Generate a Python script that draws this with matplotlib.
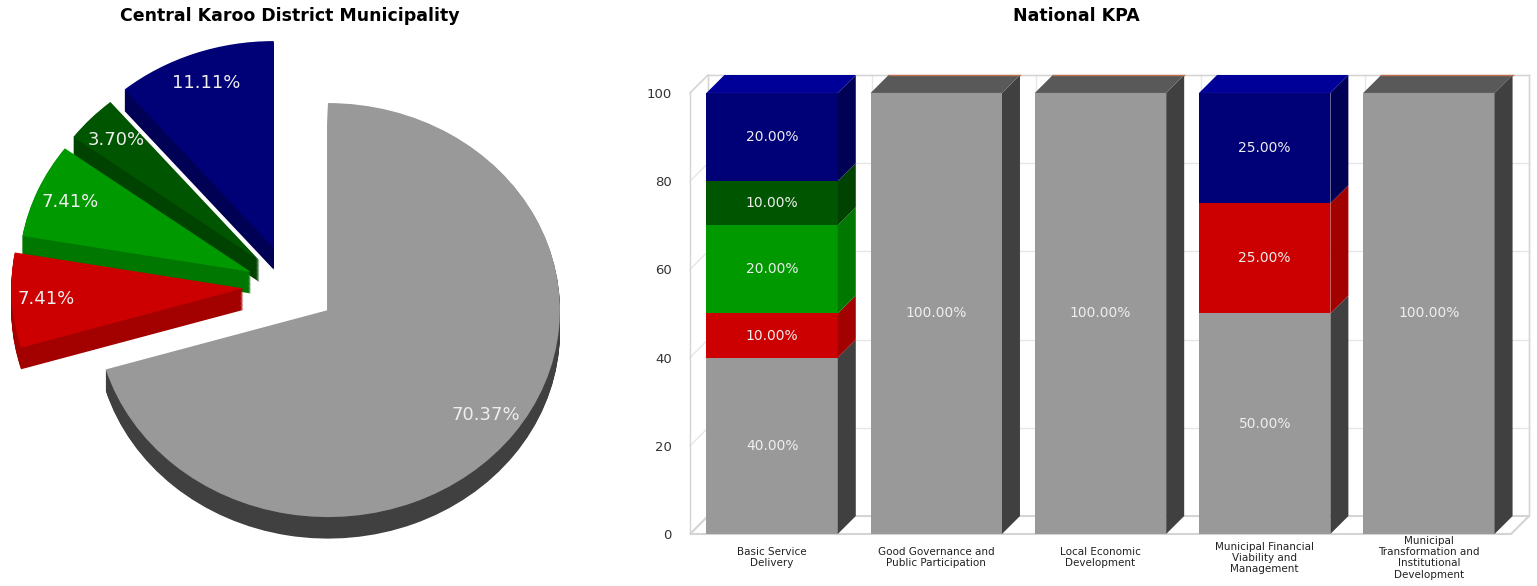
import numpy as np
import matplotlib
matplotlib.use('Agg')
import matplotlib.pyplot as plt

# Datos del gráfico circular (conteos -> porcentajes)
pie_labels = ['Grey', 'Red', 'Green', 'Dark green', 'Blue']
pie_counts = [19, 2, 2, 1, 3]

# Datos del gráfico de barras (porcentaje por KPA)
kpa_names = ['Basic Service\nDelivery',
             'Good Governance and\nPublic Participation',
             'Local Economic\nDevelopment',
             'Municipal Financial\nViability and\nManagement',
             'Municipal\nTransformation and\nInstitutional\nDevelopment']
grey_pct = [40, 100, 100, 50, 100]
red_pct = [10, 0, 0, 25, 0]
green_pct = [20, 0, 0, 0, 0]
dkgreen_pct = [10, 0, 0, 0, 0]
blue_pct = [20, 0, 0, 25, 0]

# Colores (cara frontal, lateral, superior)
front = ['#999999', '#cc0000', '#009900', '#005500', '#000077']
side = ['#404040', '#a30000', '#007700', '#004200', '#000055']
top = ['#595959', '#dd2222', '#00aa00', '#006600', '#000099']

# estilo de separación de las porciones (distancia y ángulo en grados)
explode = [0, 0.38, 0.38, 0.38, 0.38]
explode_ang = [0, 164, 151, 141, 128]

fig = plt.figure(figsize=(15.37, 5.86), dpi=100)

# ---------------- Pie 3D ----------------
ax1 = fig.add_axes([0, 0, 620 / 1537, 556 / 586])


def dibujar_pie(cy, colores, etiquetas=False):
    kw = dict(colors=colores, startangle=90, counterclock=False,
              center=(0, cy), wedgeprops={'linewidth': 0})
    if etiquetas:
        kw.update(autopct='%.2f%%', pctdistance=0.85,
                  textprops={'color': '#eeeeee', 'fontsize': 13})
    res = ax1.pie(pie_counts, **kw)
    for i, w in enumerate(res[0]):
        ox = explode[i] * np.cos(np.radians(explode_ang[i]))
        oy = explode[i] * np.sin(np.radians(explode_ang[i]))
        w.set_center((ox, cy + oy))
        if etiquetas:
            px, py = res[2][i].get_position()
            res[2][i].set_position((px + ox, py + oy))
    return res


n_layers = 26
step = 0.004
for k in range(n_layers, 0, -1):
    dibujar_pie(-k * step, side)
dibujar_pie(0, front, etiquetas=True)
ax1.set_aspect('auto')
ax1.set_xlim(-1.414, 1.259)
ax1.set_ylim(-1.333, 1.353)
ax1.axis('off')

fig.text(290 / 1537, 1 - 16 / 586, 'Central Karoo District Municipality',
         ha='center', va='center', fontsize=12.5, fontweight='bold')

# ---------------- Barras 3D ----------------
dx = 18 / 164.2
dy = 18 / 4.42
bw = 0.8
ax2 = fig.add_axes([690 / 1537, 52 / 586, 839 / 1537, 459 / 586])
ax2.set_xlim(-0.5, 4.5 + dx)
ax2.set_ylim(0, 100 + dy)
n = len(kpa_names)
wall = '#d4d4d4'
grid = '#e6e6e6'

# pared trasera, pared izquierda y piso
ax2.fill([-0.5, 4.5, 4.5 + dx, -0.5 + dx], [0, 0, dy, dy],
         facecolor='white', edgecolor=wall, lw=1.5, zorder=1, clip_on=False)
for v in [20, 40, 60, 80, 100]:
    ax2.plot([-0.5 + dx, 4.5 + dx], [v + dy, v + dy], color=grid, lw=1,
             zorder=0.5, clip_on=False)
    ax2.plot([-0.5, -0.5 + dx], [v, v + dy], color=grid, lw=1, zorder=0.5,
             clip_on=False)
for k in range(n + 1):
    ax2.plot([-0.5 + dx + k, -0.5 + dx + k], [dy, 100 + dy], color=grid,
             lw=1, zorder=0.5, clip_on=False)
ax2.plot([-0.5 + dx, 4.5 + dx], [100 + dy, 100 + dy], color=wall, lw=1,
         zorder=0.6, clip_on=False)
ax2.plot([-0.5, -0.5], [0, 100], color=wall, lw=1, zorder=0.6, clip_on=False)
ax2.plot([-0.5, -0.5 + dx], [100, 100 + dy], color=wall, lw=1, zorder=0.6,
         clip_on=False)
ax2.plot([-0.5 + dx, -0.5 + dx], [dy, 100 + dy], color=wall, lw=1,
         zorder=0.6, clip_on=False)
ax2.plot([4.5 + dx, 4.5 + dx], [dy, 100 + dy], color=wall, lw=1,
         zorder=0.6, clip_on=False)

series = [grey_pct, red_pct, green_pct, dkgreen_pct, blue_pct]
x = np.arange(n)
bottoms = np.zeros(n)
for s, vals in enumerate(series):
    vals = np.array(vals, dtype=float)
    ax2.bar(x, vals, bottom=bottoms, width=bw, color=front[s], linewidth=0,
            zorder=3)
    for i in range(n):
        if vals[i] <= 0:
            continue
        b = bottoms[i]
        t = b + vals[i]
        xr = x[i] + bw / 2
        ax2.fill([xr, xr + dx, xr + dx, xr], [b, b + dy, t + dy, t],
                 color=side[s], linewidth=0, zorder=3)
        ax2.text(x[i], b + vals[i] / 2, f'{vals[i]:.2f}%', ha='center',
                 va='center', color='#eeeeee', fontsize=10, zorder=5)
    bottoms = bottoms + vals

# caras superiores
for i in range(n):
    s_top = max(s for s in range(len(series)) if series[s][i] > 0)
    t = bottoms[i]
    xl, xr = x[i] - bw / 2, x[i] + bw / 2
    ax2.fill([xl, xl + dx, xr + dx, xr], [t, t + dy, t + dy, t],
             color=top[s_top], linewidth=0, zorder=3, clip_on=False)
    if s_top == 0:
        ax2.plot([xl + dx, xr + dx], [t + dy, t + dy], color='#c0704f',
                 lw=1, zorder=4, clip_on=False)

for i, name in enumerate(kpa_names):
    ax2.text(x[i], -0.052, name, transform=ax2.get_xaxis_transform(),
             ha='center', va='center', fontsize=7.5, color='#222222',
             linespacing=1.15)

ax2.set_xticks([])
ax2.set_yticks([0, 20, 40, 60, 80, 100])
ax2.tick_params(axis='y', length=0, pad=13, labelsize=9.5,
                labelcolor='#333333')
for sp in ax2.spines.values():
    sp.set_visible(False)

fig.text(1076 / 1537, 1 - 16 / 586, 'National KPA', ha='center',
         va='center', fontsize=12.5, fontweight='bold')

fig.savefig('out.png', dpi=100)
